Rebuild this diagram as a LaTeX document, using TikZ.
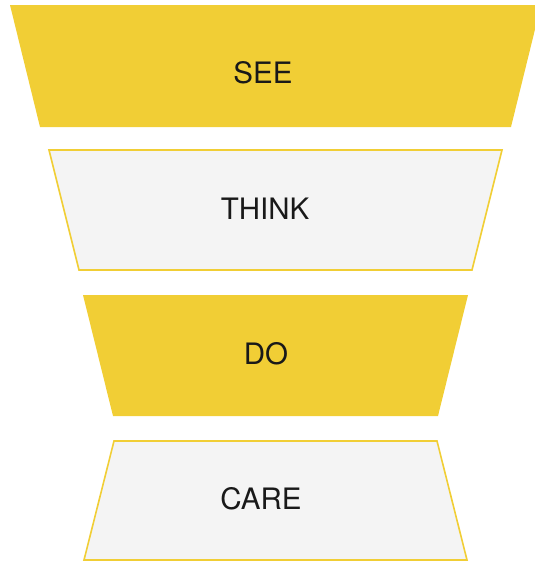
\documentclass[tikz,border=0pt]{standalone}
\usepackage{fontspec}
\setmainfont{TeX Gyre Heros}
\usepackage{tikz}
\usetikzlibrary{calc}
\definecolor{funnelyellow}{HTML}{F1CE35}
\definecolor{funnelgray}{HTML}{F4F4F4}
\tikzset{
  solidstage/.style={fill=funnelyellow},
  openstage/.style={fill=funnelgray, draw=funnelyellow, line width=1.6pt, line join=miter},
  stagelabel/.style={font=\fontsize{29.5}{29.5}\selectfont, text=black!90}
}

\begin{document}
\begin{tikzpicture}[x=1pt, y=-1pt]
    \useasboundingbox (0,0) rectangle (535,562);

    % funnel stages
    \fill [solidstage] (10,5) -- (541,5) -- (511,127) -- (40,127) -- cycle;
    \draw [openstage] (49,150) -- (502,150) -- (472,270) -- (79,270) -- cycle;
    \fill [solidstage] (83,295) -- (468,295) -- (438,416) -- (113,416) -- cycle;
    \draw [openstage] (114,441) -- (437,441) -- (467,560) -- (84,560) -- cycle;

    \node [stagelabel] (see) at (263,73) { SEE };
    \node [stagelabel] (think) at (265,209) { THINK };
    \node [stagelabel] (do) at (266,354) { DO };
    \node [stagelabel] (care) at (261,499) { CARE };
  \end{tikzpicture}
\end{document}
